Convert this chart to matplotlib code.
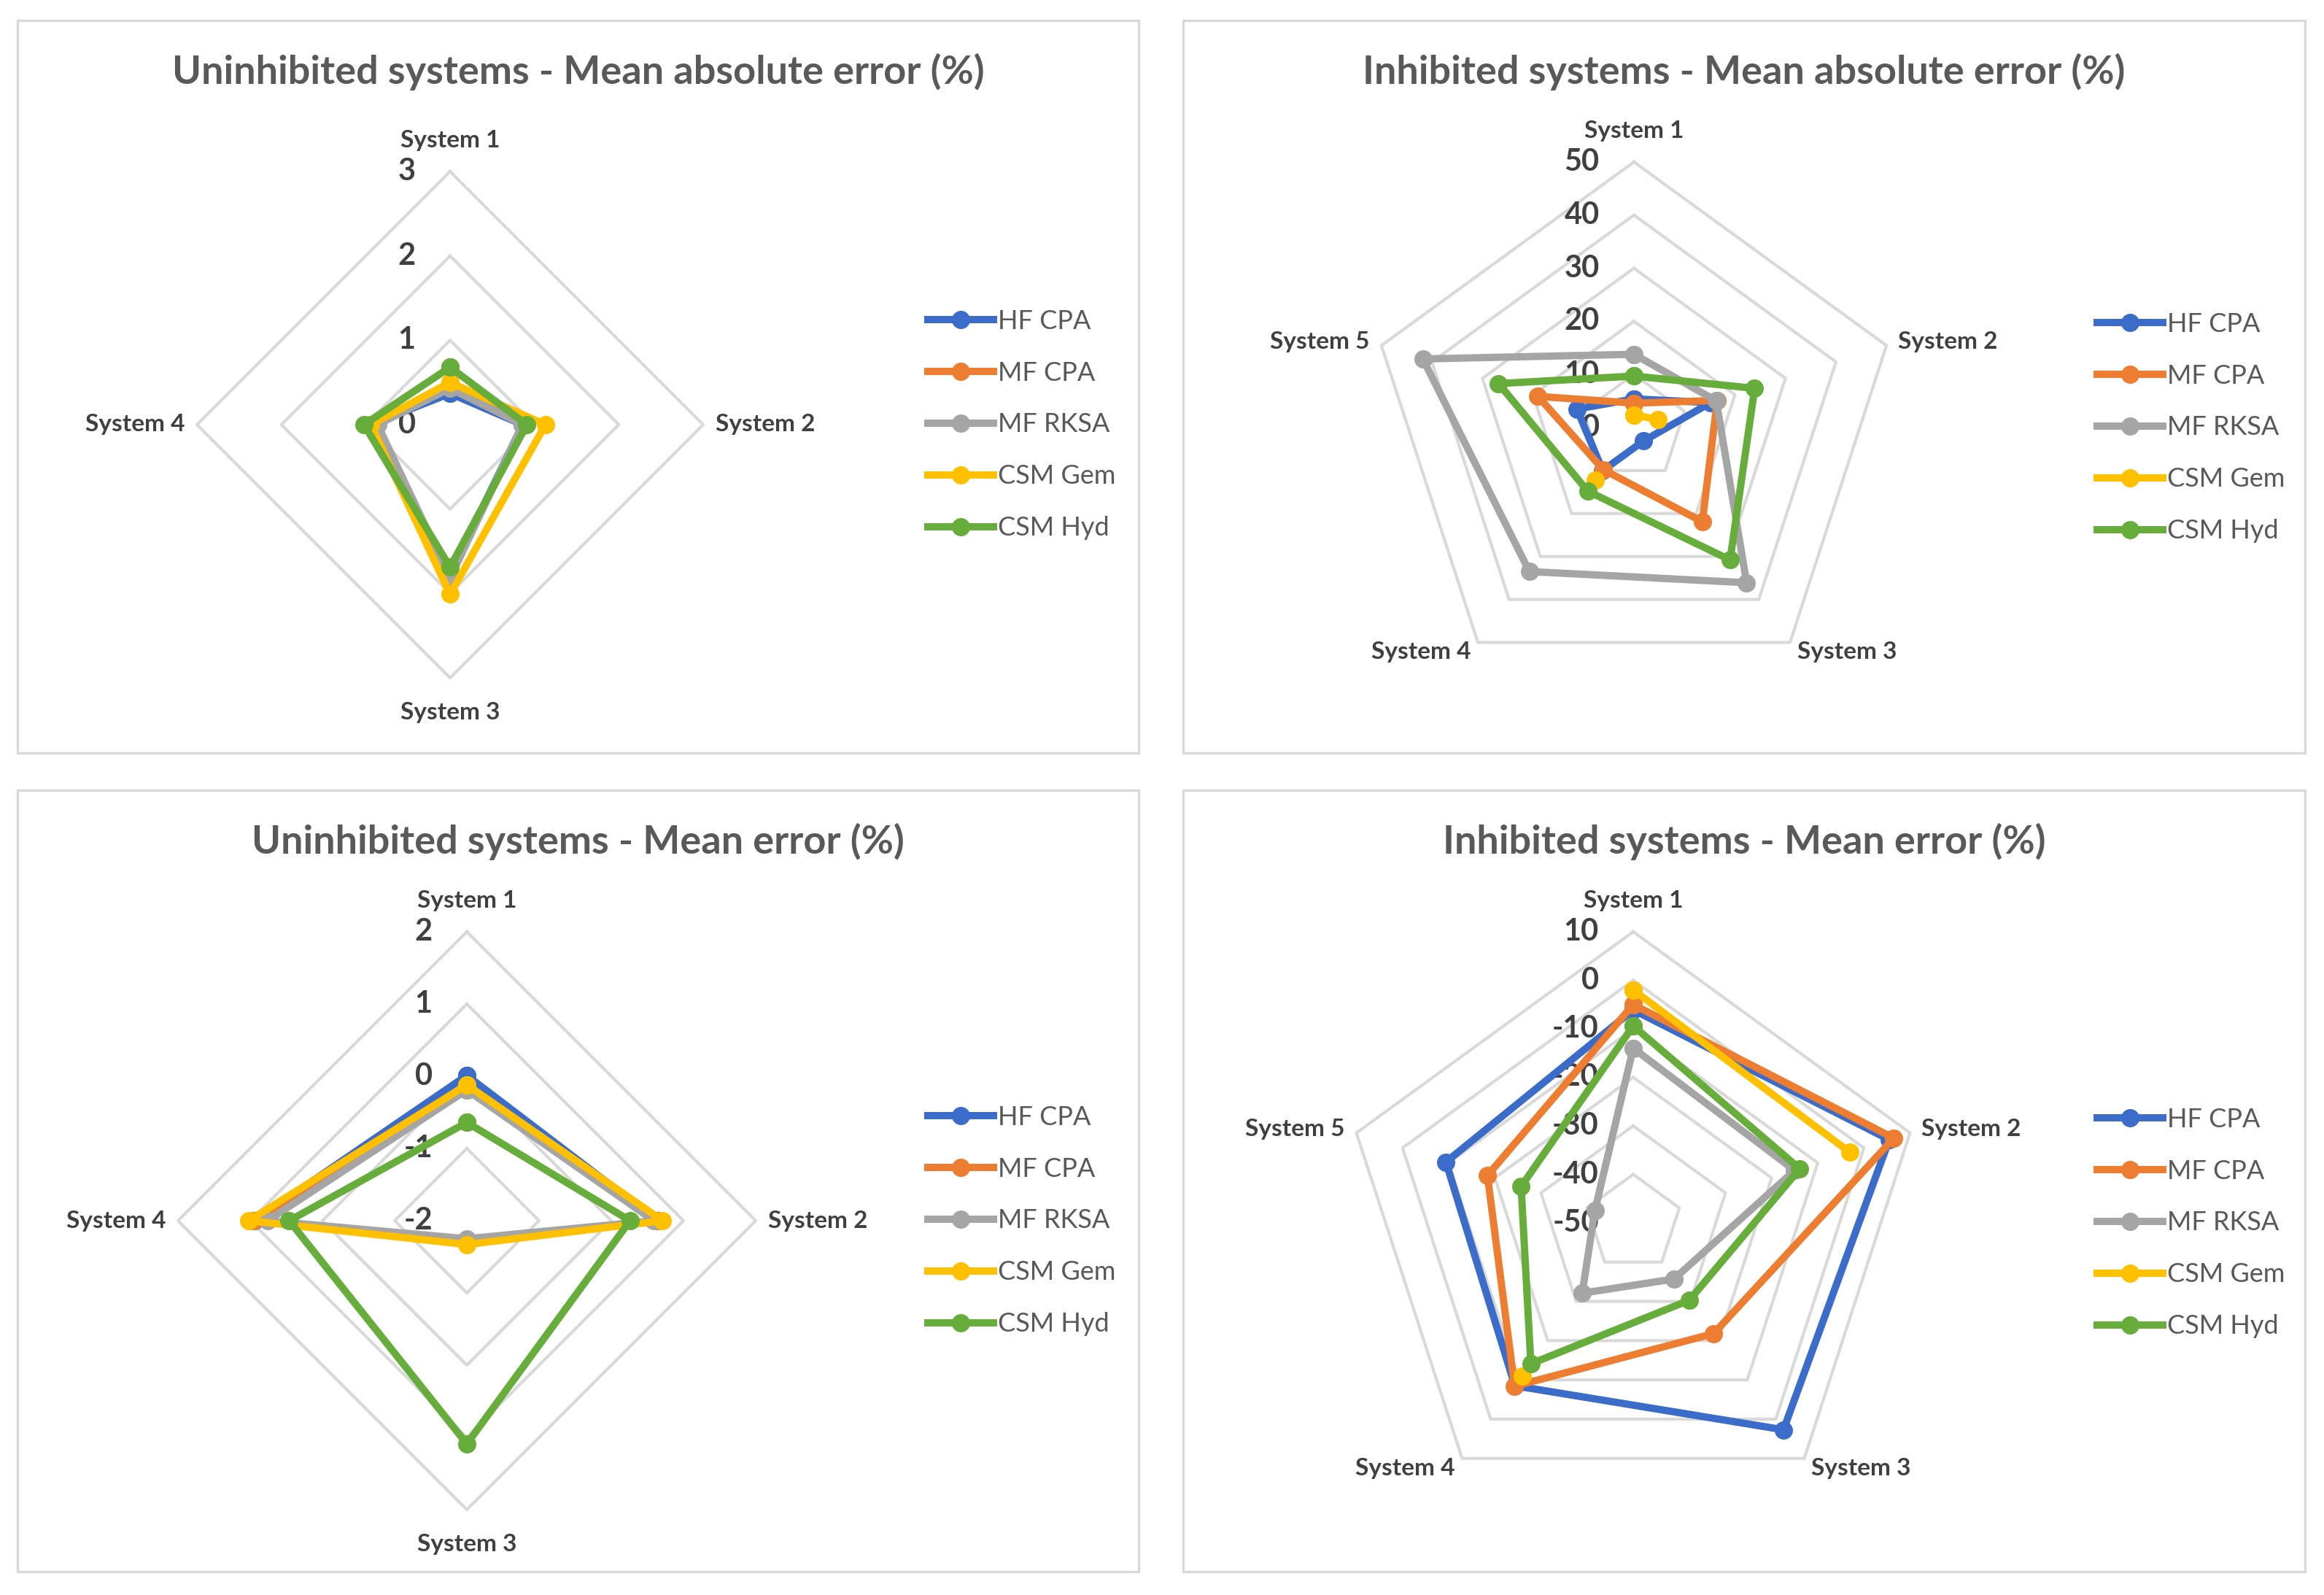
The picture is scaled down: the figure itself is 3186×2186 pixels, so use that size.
import numpy as np
import matplotlib
matplotlib.use('Agg')
import matplotlib.pyplot as plt
from matplotlib.patches import Rectangle

plt.rcParams['font.family'] = ['Lato', 'DejaVu Sans']

models = ['HF CPA', 'MF CPA', 'MF RKSA', 'CSM Gem', 'CSM Hyd']
colors = ['#3B6CC9', '#ED7D31', '#A5A5A5', '#FFC000', '#66AD3C']

systems_unin = ['System 1', 'System 2', 'System 3', 'System 4']
systems_inh = ['System 1', 'System 2', 'System 3', 'System 4', 'System 5']

nan = np.nan

# Uninhibited systems - mean absolute error (%)
unin_mae = {
    'HF CPA':  [0.37, 0.86, 1.78, 0.94],
    'MF CPA':  [0.45, 0.87, 1.80, 0.95],
    'MF RKSA': [0.43, 0.86, 1.82, 0.86],
    'CSM Gem': [0.50, 1.13, 2.01, 0.94],
    'CSM Hyd': [0.68, 0.91, 1.69, 1.02],
}

# Inhibited systems - mean absolute error (%)
inh_mae = {
    'HF CPA':  [5.4, 15.2, 3.1, 10.0, 11.3],
    'MF CPA':  [4.6, 16.5, 21.9, 9.8, 19.0],
    'MF RKSA': [13.8, 16.3, 36.1, 33.5, 41.8],
    'CSM Gem': [2.4, 4.8, nan, 12.3, nan],
    'CSM Hyd': [9.7, 23.9, 30.8, 14.8, 26.8],
}

# Uninhibited systems - mean error (%)
unin_me = {
    'HF CPA':  [0.01, 0.64, -1.72, 0.94],
    'MF CPA':  [-0.15, 0.64, -1.72, 0.95],
    'MF RKSA': [-0.19, 0.59, -1.75, 0.76],
    'CSM Gem': [-0.12, 0.71, -1.67, 1.02],
    'CSM Hyd': [-0.64, 0.26, 1.09, 0.46],
}

# Inhibited systems - mean error (%)
inh_me = {
    'HF CPA':  [-6.1, 5.5, 2.7, -8.5, -9.4],
    'MF CPA':  [-5.0, 6.5, -21.8, -8.4, -18.4],
    'MF RKSA': [-14.0, -15.0, -35.7, -32.1, -41.7],
    'CSM Gem': [-2.0, -3.0, nan, -11.0, nan],
    'CSM Hyd': [-9.4, -13.9, -30.3, -14.1, -25.7],
}

W, H = 3186, 2186
fig = plt.figure(figsize=(W / 200, H / 200), dpi=200)

grid_col = '#D9D9D9'
text_col = '#404040'
title_col = '#595959'


def radar(values, systems, rticks, title, box, centre, radius, legend_x):
    x0, y0, x1, y1 = box
    # panel frame
    fig.add_artist(Rectangle((x0 / W, 1 - y1 / H), (x1 - x0) / W, (y1 - y0) / H,
                             transform=fig.transFigure, fill=False,
                             ec=grid_col, lw=1.2))
    fig.text((x0 + x1) / 2 / W, 1 - (y0 + 70) / H, title, ha='center', va='center',
             fontsize=19.5, fontweight='bold', color=title_col)

    cx, cy = centre
    ax = fig.add_axes([(cx - radius) / W, 1 - (cy + radius) / H,
                       2 * radius / W, 2 * radius / H], projection='polar')
    ax.set_theta_offset(np.pi / 2)
    ax.set_theta_direction(-1)
    ax.set_ylim(rticks[0], rticks[-1])
    ax.set_xticks([])
    ax.set_yticks([])
    ax.grid(False)
    ax.spines['polar'].set_visible(False)
    ax.patch.set_alpha(0)

    n = len(systems)
    theta = np.arange(n) * 2 * np.pi / n
    theta_c = np.append(theta, theta[0])

    # polygon gridlines
    for r in rticks[1:]:
        ax.plot(theta_c, [r] * (n + 1), color=grid_col, lw=1.5, zorder=1, clip_on=False)

    # value labels along System 1 axis
    for r in rticks:
        ax.annotate(str(r), (0, r), xytext=(-17, 0), textcoords='offset points',
                    ha='right', va='center', fontsize=15, fontweight='bold',
                    color=text_col, zorder=1.5, annotation_clip=False)

    # category labels
    for t, name in zip(theta, systems):
        ang = np.pi / 2 - t
        c, s = np.cos(ang), np.sin(ang)
        if abs(c) < 0.1:
            ha = 'center'
            va = 'bottom' if s > 0 else 'top'
            off = (0, 10) if s > 0 else (0, -12)
        else:
            ha = 'left' if c > 0 else 'right'
            va = 'center'
            off = (6 * c, 6 * s)
        ax.annotate(name, (t, rticks[-1]), xytext=off, textcoords='offset points',
                    ha=ha, va=va, fontsize=12, fontweight='bold', color=text_col,
                    annotation_clip=False)

    for m, col in zip(models, colors):
        v = values[m]
        ax.plot(theta_c, v + [v[0]], color=col, lw=3.6, marker='o', ms=8,
                label=m, zorder=3, clip_on=False)

    ax.legend(loc='center left', bbox_to_anchor=(legend_x / W, 1 - cy / H),
              bbox_transform=fig.transFigure, frameon=False, fontsize=13,
              labelcolor=title_col, handlelength=2.5, handletextpad=0.15,
              labelspacing=1.05, borderpad=0, borderaxespad=0, numpoints=1)


radar(unin_mae, systems_unin, [0, 1, 2, 3],
      'Uninhibited systems - Mean absolute error (%)',
      (24, 28, 1561, 1032), (617, 582), 347, 1272)
radar(inh_mae, systems_inh, [0, 10, 20, 30, 40, 50],
      'Inhibited systems - Mean absolute error (%)',
      (1622, 28, 3160, 1032), (2240, 586), 364, 2875)
radar(unin_me, systems_unin, [-2, -1, 0, 1, 2],
      'Uninhibited systems - Mean error (%)',
      (24, 1083, 1561, 2154), (640, 1673), 396, 1272)
radar(inh_me, systems_inh, [-50, -40, -30, -20, -10, 0, 10],
      'Inhibited systems - Mean error (%)',
      (1622, 1083, 3160, 2154), (2239, 1676), 399, 2875)

fig.savefig('out.png', dpi=200, facecolor='white')
